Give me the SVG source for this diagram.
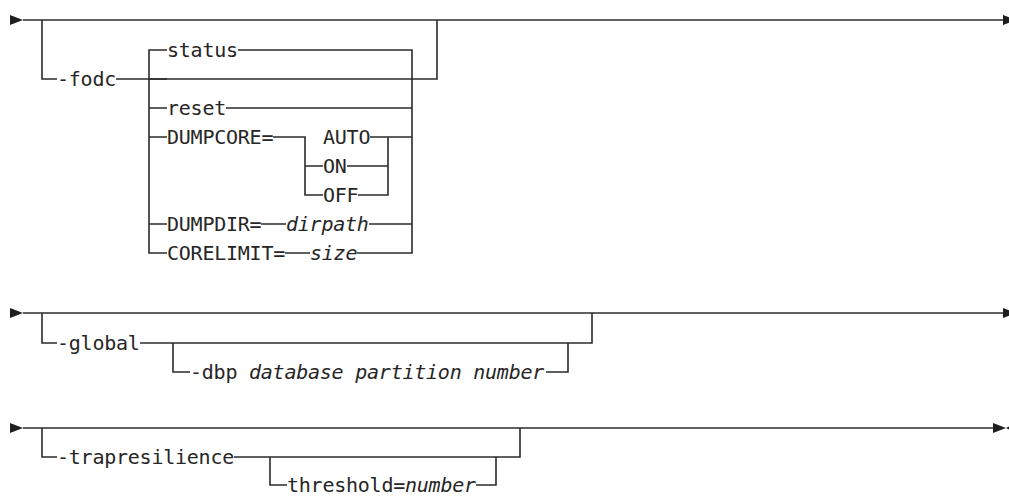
<svg xmlns="http://www.w3.org/2000/svg" width="1009" height="496" viewBox="0 0 1009 496">
<style>
.ln{fill:none;stroke:#2b2b2b;stroke-width:1.6}
.ar{fill:#1e1e1e}
text{font-family:"DejaVu Sans Mono","Liberation Mono",monospace;font-size:20px;letter-spacing:-0.24px;fill:#262626}
.it{font-style:italic}
</style>
<rect width="1009" height="496" fill="#fff"/>
<g id="connectors">
<!-- row 1 -->
<polygon class="ar" points="10,15 23,20 10,25"/>
<path class="ln" d="M23,20H1004"/>
<polygon class="ar" points="1003,15 1016,20 1003,25"/>
<path class="ln" d="M42,20V79H57M116,79H437V20"/>
<path class="ln" d="M167,50H149V253H167M238,50H412V253H357M226,108H412M149,79H167M149,108H167M149,137H167M149,224H167M273,137H305V195H323M305,166H323M370,137H412M347,166H388M358,195H388V137M261,224H286M369,224H412M285,253H310"/>
<!-- row 2 -->
<polygon class="ar" points="10,308 23,313 10,318"/>
<path class="ln" d="M23,313H1004"/>
<polygon class="ar" points="1003,308 1016,313 1003,318"/>
<path class="ln" d="M42,313V343H57M140,343H592V313M173,343V372H190M546,372H568V343"/>
<!-- row 3 -->
<polygon class="ar" points="10,423 23,428 10,433"/>
<path class="ln" d="M23,428H994"/>
<polygon class="ar" points="993,423 1006,428 993,433"/>
<polygon class="ar" points="1016,423 1006,428 1016,433"/>
<path class="ln" d="M42,428V457H57M234,457H520V428M270,457V485H287M476,485H496V457"/>
</g>
<g id="n-fodc"><text x="57" y="86">-fodc</text></g>
<g id="n-status"><text x="167" y="57">status</text></g>
<g id="n-reset"><text x="167" y="115">reset</text></g>
<g id="n-dumpcore"><text x="167" y="144">DUMPCORE=</text></g>
<g id="n-auto"><text x="323" y="144">AUTO</text></g>
<g id="n-on"><text x="323" y="173">ON</text></g>
<g id="n-off"><text x="323" y="202">OFF</text></g>
<g id="n-dumpdir"><text x="167" y="231">DUMPDIR=<tspan x="286" class="it">dirpath</tspan></text></g>
<g id="n-corelimit"><text x="167" y="260">CORELIMIT=<tspan x="310" class="it">size</tspan></text></g>
<g id="n-global"><text x="57" y="350">-global</text></g>
<g id="n-dbp"><text x="190" y="379">-dbp <tspan class="it">database partition number</tspan></text></g>
<g id="n-trap"><text x="57" y="464">-trapresilience</text></g>
<g id="n-threshold"><text x="287" y="492">threshold=<tspan class="it">number</tspan></text></g>
</svg>
